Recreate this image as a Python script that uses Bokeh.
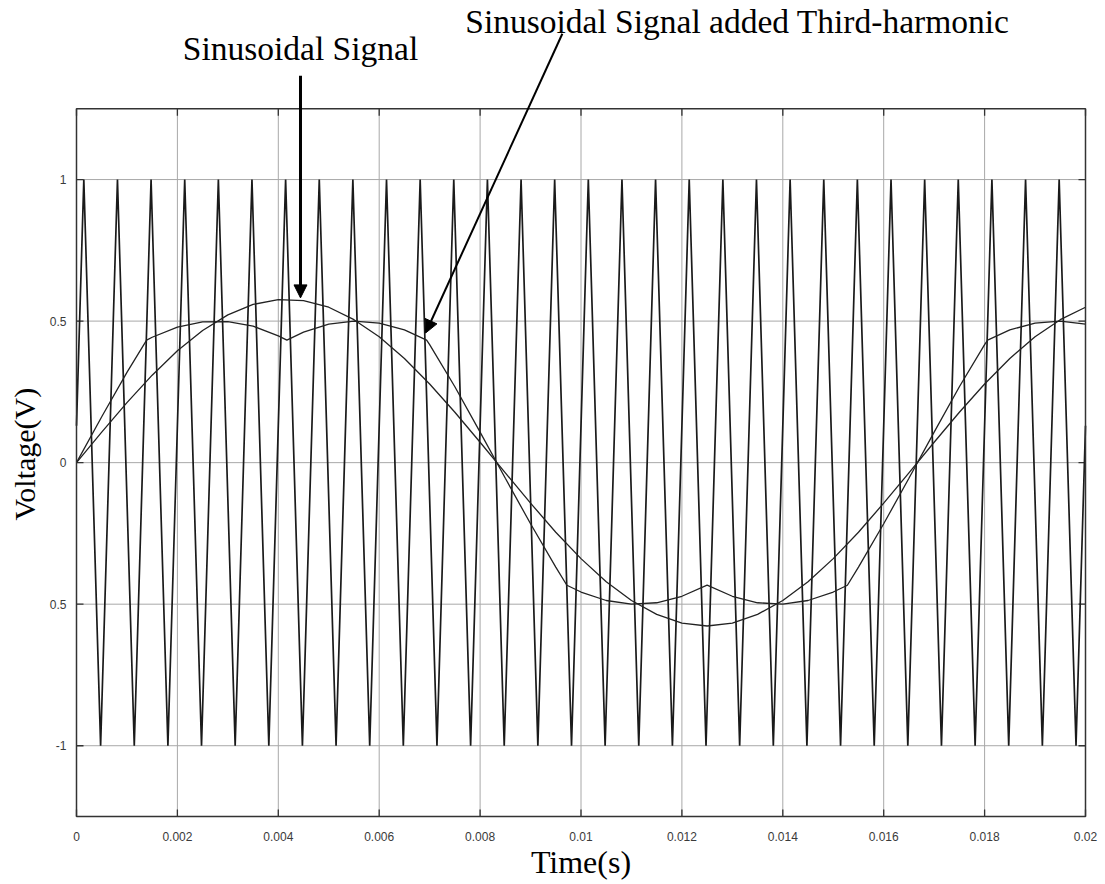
from bokeh.plotting import figure
from bokeh.models import (Range1d, FixedTicker, Label, Arrow, NormalHead, Title)
from bokeh.embed import file_html
from bokeh.resources import INLINE

# ---------------- data ----------------
x_ticks = [0, 0.002, 0.004, 0.006, 0.008, 0.01, 0.012, 0.014, 0.016, 0.018, 0.02]
x_tick_labels = ["0", "0.002", "0.004", "0.006", "0.008", "0.01", "0.012",
                 "0.014", "0.016", "0.018", "0.02"]
y_ticks = [-1, -0.5, 0, 0.5, 1]
y_tick_labels = ["-1", "0.5", "0", "0.5", "1"]
x_limits = [0, 0.02]
y_limits = [-1.25, 1.25]

# triangular carrier: times of its tops (+1) and bottoms (-1)
carrier_peak_t = [0.000145, 0.000812, 0.001478, 0.002145, 0.002812, 0.003478,
                  0.004145, 0.004812, 0.005478, 0.006145, 0.006812, 0.007478,
                  0.008145, 0.008812, 0.009478, 0.010145, 0.010812, 0.011478,
                  0.012145, 0.012812, 0.013478, 0.014145, 0.014812, 0.015478,
                  0.016145, 0.016812, 0.017478, 0.018145, 0.018812, 0.019478]
carrier_trough_t = [0.000478, 0.001145, 0.001812, 0.002478, 0.003145, 0.003812,
                    0.004478, 0.005145, 0.005812, 0.006478, 0.007145, 0.007812,
                    0.008478, 0.009145, 0.009812, 0.010478, 0.011145, 0.011812,
                    0.012478, 0.013145, 0.013812, 0.014478, 0.015145, 0.015812,
                    0.016478, 0.017145, 0.017812, 0.018478, 0.019145, 0.019812]
carrier_start = (0.0, 0.13)
carrier_end = (0.02, 0.13)

# sinusoidal reference signal
sine_t = [0, 0.0005, 0.001, 0.0015, 0.002, 0.0025, 0.003, 0.0035, 0.004, 0.0045,
          0.005, 0.0055, 0.006, 0.0065, 0.007, 0.0075, 0.008, 0.0085, 0.009, 0.0095,
          0.01, 0.0105, 0.011, 0.0115, 0.012, 0.0125, 0.013, 0.0135, 0.014, 0.0145,
          0.015, 0.0155, 0.016, 0.0165, 0.017, 0.0175, 0.018, 0.0185, 0.019, 0.0195,
          0.02]
sine_v = [0, 0.108, 0.212, 0.309, 0.395, 0.467, 0.522, 0.559, 0.576, 0.572,
          0.549, 0.505, 0.445, 0.368, 0.278, 0.178, 0.072, -0.036, -0.143, -0.246,
          -0.339, -0.421, -0.487, -0.536, -0.567, -0.577, -0.567, -0.536, -0.487, -0.421,
          -0.339, -0.246, -0.143, -0.036, 0.072, 0.178, 0.278, 0.368, 0.445, 0.505,
          0.549]

# sinusoidal signal with added third harmonic
third_t = [0, 0.0005, 0.001, 0.00139, 0.0015, 0.002, 0.0025, 0.003, 0.0035, 0.004,
           0.00417, 0.0045, 0.005, 0.0055, 0.006, 0.0065, 0.00694, 0.007, 0.0075,
           0.008, 0.0085, 0.009, 0.0095, 0.00972, 0.01, 0.0105, 0.011, 0.0115, 0.012,
           0.0125, 0.013, 0.0135, 0.014, 0.0145, 0.015, 0.01528, 0.0155, 0.016,
           0.0165, 0.017, 0.0175, 0.018, 0.01806, 0.0185, 0.019, 0.0195, 0.02]
third_v = [0, 0.162, 0.319, 0.433, 0.443, 0.479, 0.497, 0.498, 0.482, 0.448,
           0.433, 0.461, 0.489, 0.500, 0.493, 0.469, 0.433, 0.417, 0.268,
           0.108, -0.055, -0.216, -0.369, -0.433, -0.457, -0.487, -0.500, -0.495, -0.472,
           -0.433, -0.472, -0.495, -0.500, -0.487, -0.457, -0.433, -0.369, -0.216,
           -0.055, 0.108, 0.268, 0.417, 0.433, 0.469, 0.493, 0.500, 0.489]

annot_sine = "Sinusoidal Signal"
annot_third = "Sinusoidal Signal added Third-harmonic"
x_title = "Time(s)"
y_title = "Voltage(V)"

# ---------------- build carrier vertex list ----------------
car_t = [carrier_start[0]]
car_v = [carrier_start[1]]
for tp, tt in zip(carrier_peak_t, carrier_trough_t):
    car_t += [tp, tt]
    car_v += [1, -1]
car_t.append(carrier_end[0])
car_v.append(carrier_end[1])

# ---------------- figure ----------------
# The plotting frame reaches to the top of the canvas so that the
# annotation texts and arrows above the boxed area are not clipped.
W, H = 1105, 884
PX_X = 0.02 / 1009.0     # data units per pixel (x)
PX_Y = 1.0 / 283.0       # data units per pixel (y)
p = figure(width=W, height=H, output_backend="svg", toolbar_location=None,
           title=None,
           x_range=Range1d(x_limits[0] - 2 * PX_X, x_limits[1] + 2 * PX_X),
           y_range=Range1d(y_limits[0] - 2 * PX_Y, 462 * PX_Y),
           min_border_left=0, min_border_right=18, min_border_top=0,
           min_border_bottom=66, background_fill_color="white",
           border_fill_color="white")
p.outline_line_color = None
p.xgrid.visible = False
p.ygrid.visible = False

for ax in (p.xaxis[0], p.yaxis[0]):
    ax.major_tick_line_color = None
    ax.minor_tick_line_color = None
    ax.axis_line_color = None
    ax.major_label_text_font = "Liberation Sans"
    ax.major_label_text_font_size = "12px"
    ax.major_label_text_color = "#3a3a3a"

p.xaxis[0].ticker = FixedTicker(ticks=x_ticks)
p.xaxis[0].major_label_overrides = dict(zip(x_ticks, x_tick_labels))
p.xaxis[0].major_label_standoff = 7
p.xaxis[0].axis_label = x_title
p.xaxis[0].axis_label_standoff = 0
p.xaxis[0].axis_label_text_font = "Liberation Serif"
p.xaxis[0].axis_label_text_font_size = "32px"
p.xaxis[0].axis_label_text_font_style = "normal"
p.xaxis[0].axis_label_text_color = "black"

p.yaxis[0].ticker = FixedTicker(ticks=y_ticks)
p.yaxis[0].major_label_overrides = dict(zip(y_ticks, y_tick_labels))
p.yaxis[0].major_label_standoff = 2

p.add_layout(Title(text=y_title, align="left", offset=298, standoff=11,
                   text_font="Liberation Serif", text_font_size="30px",
                   text_font_style="normal", text_color="black"), "left")

# ---------------- grid, box and inner ticks ----------------
gx0, gx1 = x_limits
gy0, gy1 = y_limits
p.segment(x0=x_ticks, y0=[gy0] * len(x_ticks), x1=x_ticks, y1=[gy1] * len(x_ticks),
          line_color="#a8a8a8", line_width=1)
p.segment(x0=[gx0] * len(y_ticks), y0=y_ticks, x1=[gx1] * len(y_ticks), y1=y_ticks,
          line_color="#a8a8a8", line_width=1)

TL_X = 7 * PX_X
TL_Y = 7 * PX_Y
tick_col = "#333333"
p.segment(x0=x_ticks, y0=[gy0] * len(x_ticks), x1=x_ticks,
          y1=[gy0 + TL_Y] * len(x_ticks), line_color=tick_col, line_width=1.3)
p.segment(x0=x_ticks, y0=[gy1] * len(x_ticks), x1=x_ticks,
          y1=[gy1 - TL_Y] * len(x_ticks), line_color=tick_col, line_width=1.3)
p.segment(x0=[gx0] * len(y_ticks), y0=y_ticks, x1=[gx0 + TL_X] * len(y_ticks),
          y1=y_ticks, line_color=tick_col, line_width=1.3)
p.segment(x0=[gx1] * len(y_ticks), y0=y_ticks, x1=[gx1 - TL_X] * len(y_ticks),
          y1=y_ticks, line_color=tick_col, line_width=1.3)

# ---------------- curves ----------------
p.line(car_t, car_v, line_color="#1a1a1a", line_width=1.7)
p.line(sine_t, sine_v, line_color="#222222", line_width=1.3)
p.line(third_t, third_v, line_color="#222222", line_width=1.3)

# box around the plotting area
p.quad(left=[gx0], right=[gx1], bottom=[gy0], top=[gy1], fill_color=None,
       line_color="#333333", line_width=1.5)

# ---------------- annotations ----------------
p.add_layout(Label(x=0.00444, y=1.462, text=annot_sine, text_align="center",
                   text_baseline="middle", text_font="Liberation Serif",
                   text_font_size="33.5px", text_color="black"))
p.add_layout(Label(x=0.0131, y=1.56, text=annot_third, text_align="center",
                   text_baseline="middle", text_font="Liberation Serif",
                   text_font_size="33.5px", text_color="black"))
p.add_layout(Arrow(x_start=0.00444, y_start=1.367, x_end=0.00444, y_end=0.582,
                   line_color="black", line_width=3,
                   end=NormalHead(size=13, fill_color="black", line_color="black")))
p.add_layout(Arrow(x_start=0.00963, y_start=1.515, x_end=0.00692, y_end=0.458,
                   line_color="black", line_width=2,
                   end=NormalHead(size=13, fill_color="black", line_color="black")))

open("out.html", "w").write(file_html(p, INLINE))
